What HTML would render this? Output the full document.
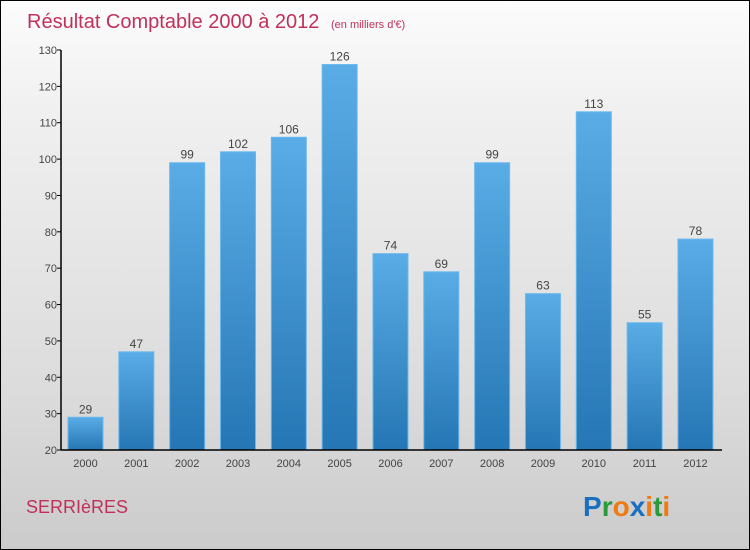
<!DOCTYPE html>
<html><head><meta charset="utf-8"><style>
body{margin:0}
#c{position:relative;width:748px;height:548px;border:1px solid #000;background:linear-gradient(#fcfcfc,#f0f0f0 20%,#dcdcdc 70%,#cbcbcb);font-family:"Liberation Sans",sans-serif;overflow:hidden}
</style></head><body>
<div id="c">
<svg id="s" width="748" height="548">
<defs><linearGradient id="g" x1="0" y1="0" x2="0" y2="1"><stop offset="0" stop-color="#5aace6"/><stop offset="1" stop-color="#2576b4"/></linearGradient></defs>
<text x="26" y="27" font-size="20" fill="#c0305a">Résultat Comptable 2000 à 2012 <tspan font-size="11" dx="6">(en milliers d'€)</tspan></text>
<text x="25" y="512" font-size="18" fill="#c0305a">SERRIèRES</text>
<text x="582" y="515" font-size="28" font-weight="bold"><tspan fill="#1a70c0">P</tspan><tspan fill="#2a9a3a">r</tspan><tspan fill="#f07a10">o</tspan><tspan fill="#1a70c0">x</tspan><tspan fill="#f07a10">i</tspan><tspan fill="#2a9a3a">t</tspan><tspan fill="#f07a10">i</tspan></text>
</svg></div>
<script>
const categories=["2000","2001","2002","2003","2004","2005","2006","2007","2008","2009","2010","2011","2012"];
const values=[29,47,99,102,106,126,74,69,99,63,113,55,78];
const yTicks=[20,30,40,50,60,70,80,90,100,110,120,130];
const s=document.getElementById('s'),NS="http://www.w3.org/2000/svg";
const y=v=>449-(v-20)*(400/110);
const x=i=>67+i*50.83;
function el(t,a,txt){const e=document.createElementNS(NS,t);for(const k in a)e.setAttribute(k,a[k]);if(txt!=null)e.textContent=txt;s.appendChild(e);return e;}
values.forEach((v,i)=>{
 const r=el('rect',{x:x(i),y:y(v),width:35,height:y(20)-y(v),fill:'url(#g)',stroke:'#6ab8ee','stroke-width':1});
 
 
 const t=el('text',{x:x(i)+17.5,y:y(v)-4,'text-anchor':'middle','font-size':12,fill:'#444'},v);
 
 
 const c=el('text',{x:x(i)+17.5,y:466,'text-anchor':'middle','font-size':11,fill:'#444'},categories[i]);
 
 
});
yTicks.forEach(v=>{
 el('line',{x1:56,x2:60,y1:y(v),y2:y(v),stroke:'#000'});
 const t=el('text',{x:56,y:y(v)+4,'text-anchor':'end','font-size':11,fill:'#444'},v);
 
 
});
const ya=el('line',{x1:60,x2:60,y1:y(130),y2:y(20),stroke:'#000','stroke-width':1.5});


const xa=el('line',{x1:60,x2:721,y1:y(20),y2:y(20),stroke:'#000','stroke-width':1.5});


</script>
</body></html>
